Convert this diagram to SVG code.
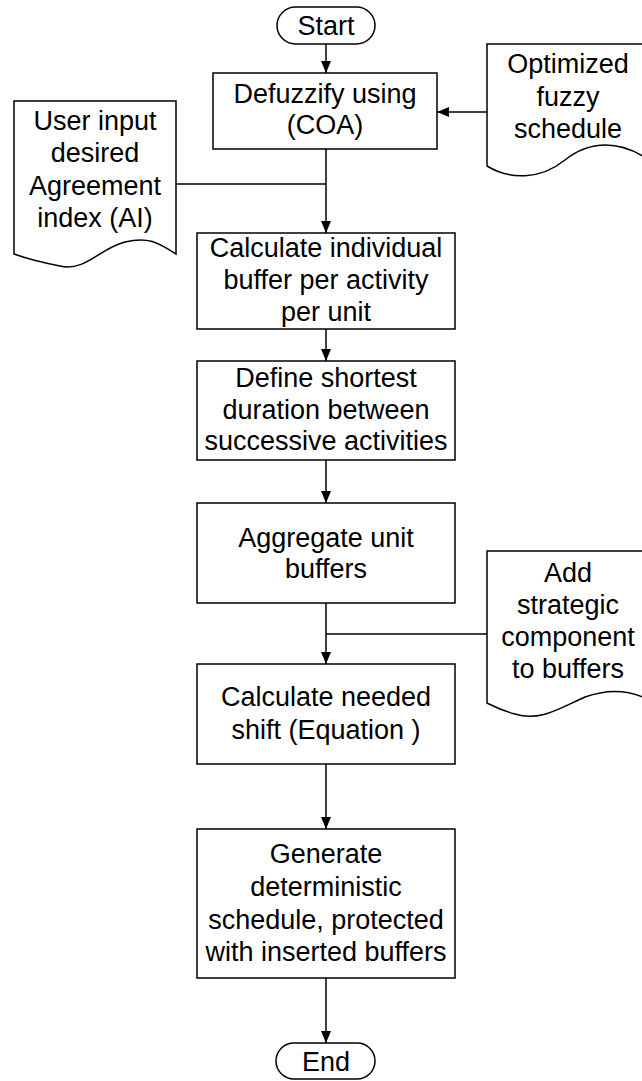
<svg xmlns="http://www.w3.org/2000/svg" width="642" height="1081" viewBox="0 0 642 1081">
<style>
.s{fill:#fff;stroke:#000;stroke-width:1.5}
.t{font-family:"Liberation Sans",Arial,sans-serif;font-size:27px;fill:#000;text-anchor:middle}
.c{fill:none;stroke:#000;stroke-width:1.5}
</style>
<defs>
<marker id="ah" viewBox="0 0 12 10" refX="12" refY="5" markerWidth="12" markerHeight="10" markerUnits="userSpaceOnUse" orient="auto">
<path d="M0,0 L12,5 L0,10 z" fill="#000"/>
</marker>
</defs>
<rect width="642" height="1081" fill="#fff"/>
<g id="connectors">
<path class="c" d="M326,44 V73" marker-end="url(#ah)"/>
<path class="c" d="M487,112 H437" marker-end="url(#ah)"/>
<path class="c" d="M326,149 V233" marker-end="url(#ah)"/>
<path class="c" d="M176,184 H326"/>
<path class="c" d="M326,329 V361" marker-end="url(#ah)"/>
<path class="c" d="M326,460 V503" marker-end="url(#ah)"/>
<path class="c" d="M326,603 V664" marker-end="url(#ah)"/>
<path class="c" d="M487,634 H326"/>
<path class="c" d="M326,764 V829" marker-end="url(#ah)"/>
<path class="c" d="M326,978 V1043" marker-end="url(#ah)"/>
</g>
<g id="start">
<rect class="s" x="277" y="7" width="98" height="37" rx="18.5"/>
<text class="t" x="326" y="35">Start</text>
</g>
<g id="defuzzify">
<rect class="s" x="213" y="73" width="224" height="76"/>
<text class="t" x="325" y="103">Defuzzify using</text>
<text class="t" x="325" y="134">(COA)</text>
</g>
<g id="optimized">
<path class="s" d="M487,44 H649 V160 C620,140 590,140 565,160 C540,180 510,180 487,166 Z"/>
<text class="t" x="568" y="73">Optimized</text>
<text class="t" x="568" y="105.5">fuzzy</text>
<text class="t" x="568" y="138">schedule</text>
</g>
<g id="userinput">
<path class="s" d="M14,101 H176 V254 C160,244 150,236 125,242 C100,248 85,272 60,266 C40,262 25,258 14,254 Z"/>
<text class="t" x="95" y="130">User input</text>
<text class="t" x="95" y="162">desired</text>
<text class="t" x="95" y="194.5">Agreement</text>
<text class="t" x="95" y="227">index (AI)</text>
</g>
<g id="calcbuffer">
<rect class="s" x="197" y="233" width="258" height="96"/>
<text class="t" x="326" y="257">Calculate individual</text>
<text class="t" x="326" y="289">buffer per activity</text>
<text class="t" x="326" y="321">per unit</text>
</g>
<g id="define">
<rect class="s" x="197" y="361" width="258" height="99"/>
<text class="t" x="326" y="387">Define shortest</text>
<text class="t" x="326" y="418.5">duration between</text>
<text class="t" x="326" y="450">successive activities</text>
</g>
<g id="aggregate">
<rect class="s" x="197" y="503" width="258" height="100"/>
<text class="t" x="326" y="547">Aggregate unit</text>
<text class="t" x="326" y="578">buffers</text>
</g>
<g id="addstrategic">
<path class="s" d="M487,551 H649 V700 C630,690 610,688 585,697 C560,708 540,722 515,714 C500,710 493,706 487,703 Z"/>
<text class="t" x="568" y="582">Add</text>
<text class="t" x="568" y="614">strategic</text>
<text class="t" x="568" y="646">component</text>
<text class="t" x="568" y="678">to buffers</text>
</g>
<g id="calcshift">
<rect class="s" x="197" y="664" width="258" height="100"/>
<text class="t" x="326" y="706">Calculate needed</text>
<text class="t" x="326" y="739">shift (Equation )</text>
</g>
<g id="generate">
<rect class="s" x="197" y="829" width="258" height="149"/>
<text class="t" x="326" y="863">Generate</text>
<text class="t" x="326" y="896">deterministic</text>
<text class="t" x="326" y="929">schedule, protected</text>
<text class="t" x="326" y="961">with inserted buffers</text>
</g>
<g id="end">
<rect class="s" x="276" y="1043" width="99" height="36" rx="18"/>
<text class="t" x="326" y="1071">End</text>
</g>
</svg>
